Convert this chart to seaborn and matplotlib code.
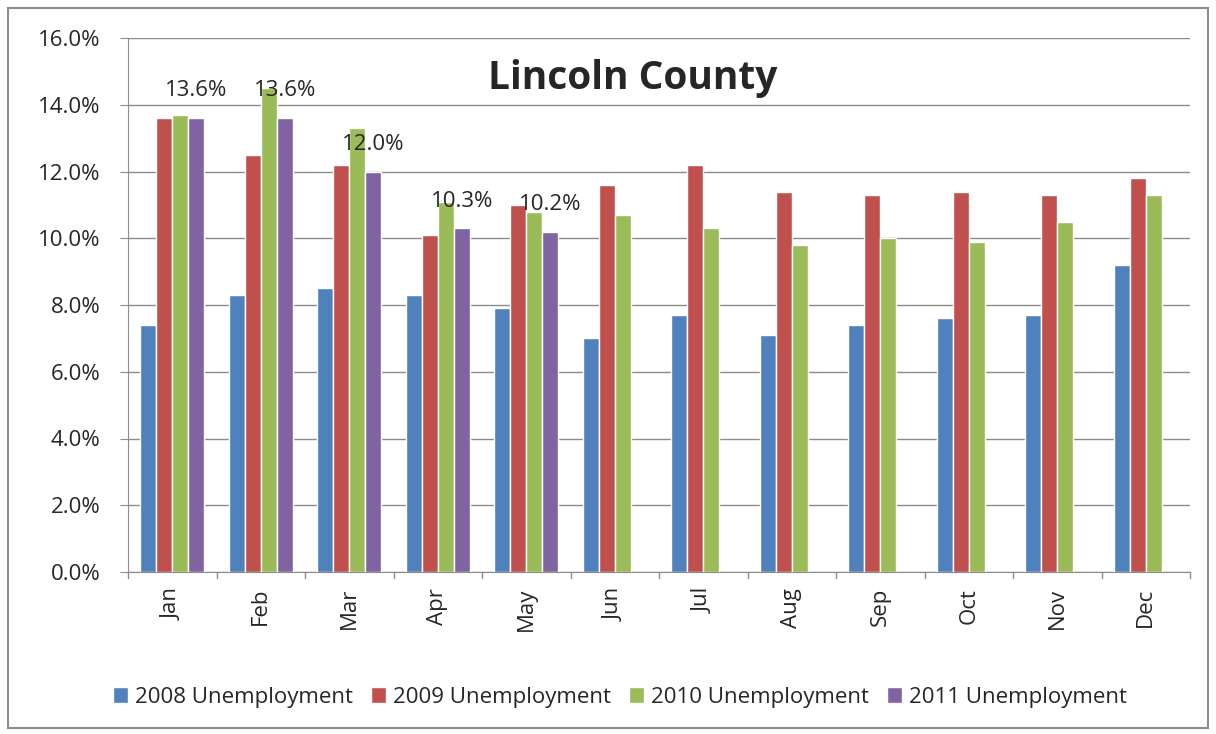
import pandas as pd
import numpy as np
import seaborn as sns
import matplotlib.pyplot as plt
from matplotlib.patches import Rectangle
from matplotlib.ticker import FuncFormatter

# datos (porcentaje)
meses = ["Jan", "Feb", "Mar", "Apr", "May", "Jun", "Jul", "Aug", "Sep", "Oct", "Nov", "Dec"]
u2008 = [7.4, 8.3, 8.5, 8.3, 7.9, 7.0, 7.7, 7.1, 7.4, 7.6, 7.7, 9.2]
u2009 = [13.6, 12.5, 12.2, 10.1, 11.0, 11.6, 12.2, 11.4, 11.3, 11.4, 11.3, 11.8]
u2010 = [13.7, 14.5, 13.3, 11.1, 10.8, 10.7, 10.3, 9.8, 10.0, 9.9, 10.5, 11.3]
u2011 = [13.6, 13.6, 12.0, 10.3, 10.2, np.nan, np.nan, np.nan, np.nan, np.nan, np.nan, np.nan]
series = ["2008 Unemployment", "2009 Unemployment", "2010 Unemployment", "2011 Unemployment"]
colores = ["#4F81BD", "#C0504D", "#9BBB59", "#8064A2"]

df = pd.DataFrame({"Mes": meses, series[0]: u2008, series[1]: u2009,
                   series[2]: u2010, series[3]: u2011})
largo = df.melt(id_vars="Mes", var_name="Serie", value_name="Tasa")

sns.set_style("white")
plt.rcParams['font.family'] = ['Open Sans', 'DejaVu Sans']

fig = plt.figure(figsize=(12.16, 7.34), dpi=100)
ax = fig.add_axes([128/1216, 1 - 572/734, (1190-128)/1216, (572-38)/734])

sns.barplot(data=largo, x="Mes", y="Tasa", hue="Serie", palette=colores,
            width=0.72, gap=0, saturation=1, ax=ax, legend=True)

ax.set_ylim(0, 16)
ax.set_xlim(-0.5, 11.5)
ax.set_yticks(np.arange(0, 16.1, 2))
ax.yaxis.set_major_formatter(FuncFormatter(lambda v, p: f"{v:.1f}%"))
ax.grid(axis="y", color="#8c8c8c", linewidth=1)
ax.set_axisbelow(True)
ax.set_xlabel("")
ax.set_ylabel("")
for s in ["top", "right"]:
    ax.spines[s].set_visible(False)
for s in ["left", "bottom"]:
    ax.spines[s].set_color("#8c8c8c")
ax.tick_params(axis="y", labelsize=16, left=True, length=6, color="#8c8c8c", pad=14)
ax.tick_params(axis="x", labelsize=16, bottom=False, pad=8)
plt.setp(ax.get_xticklabels(), rotation=90)
# marcas entre categorias como en Excel
for xb in np.arange(-0.5, 12, 1):
    ax.plot([xb, xb], [0, -0.17], color="#8c8c8c", lw=1, clip_on=False)

# etiquetas de 2011
for i, v in enumerate(u2011):
    if not np.isnan(v):
        ax.text(i + 0.27, v + 0.5, f"{v:.1f}%", ha="center", va="bottom", fontsize=16)

ax.text(0.475, 0.925, "Lincoln County", transform=ax.transAxes, ha="center", va="center",
        fontsize=28, fontweight="bold")

h, l = ax.get_legend_handles_labels()
ax.legend(h, l, loc="center", bbox_to_anchor=(0.463, -0.235), ncol=4, frameon=False,
          fontsize=16, handlelength=0.7, handleheight=0.7, handletextpad=0.3, columnspacing=0.8)

fig.patches.append(Rectangle((8/1216, 6/734), 1200/1216, 720/734, transform=fig.transFigure,
                             fill=False, edgecolor="#8c8c8c", linewidth=1.5))

fig.savefig("out.png", dpi=100)
